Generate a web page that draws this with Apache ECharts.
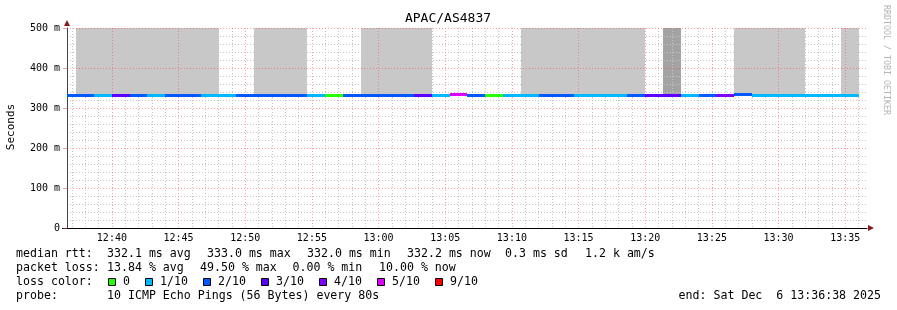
<!DOCTYPE html>
<html><head><meta charset="utf-8">
<script src="https://cdn.jsdelivr.net/npm/echarts@6/dist/echarts.min.js"></script>
<style>html,body{margin:0;padding:0;background:#fff}#c{width:897px;height:310px}</style>
</head><body><div id="c"></div>
<script>
const chartTitle = 'APAC/AS4837';
const startTime = '12:36:38';
const endTime = '13:36:38';
// probe rounds (start of each 80 s step)
const stepStarts = ['12:36:00','12:37:20','12:38:40','12:40:00','12:41:20','12:42:40','12:44:00','12:45:20','12:46:40','12:48:00',
  '12:49:20','12:50:40','12:52:00','12:53:20','12:54:40','12:56:00','12:57:20','12:58:40','13:00:00','13:01:20',
  '13:02:40','13:04:00','13:05:20','13:06:40','13:08:00','13:09:20','13:10:40','13:12:00','13:13:20','13:14:40',
  '13:16:00','13:17:20','13:18:40','13:20:00','13:21:20','13:22:40','13:24:00','13:25:20','13:26:40','13:28:00',
  '13:29:20','13:30:40','13:32:00','13:33:20','13:34:40'];
const stepEnds = ['12:37:20','12:38:40','12:40:00','12:41:20','12:42:40','12:44:00','12:45:20','12:46:40','12:48:00','12:49:20',
  '12:50:40','12:52:00','12:53:20','12:54:40','12:56:00','12:57:20','12:58:40','13:00:00','13:01:20','13:02:40',
  '13:04:00','13:05:20','13:06:40','13:08:00','13:09:20','13:10:40','13:12:00','13:13:20','13:14:40','13:16:00',
  '13:17:20','13:18:40','13:20:00','13:21:20','13:22:40','13:24:00','13:25:20','13:26:40','13:28:00','13:29:20',
  '13:30:40','13:32:00','13:33:20','13:34:40','13:36:00'];
// median rtt (ms)
const medianRtt = [332.1,332.1,332.0,332.2,332.1,332.0,332.1,332.1,332.0,332.1,
  332.1,332.2,332.1,332.1,332.0,332.1,332.1,332.1,332.2,332.1,
  332.2,332.1,333.0,332.1,332.1,332.0,332.1,332.1,332.2,332.1,
  332.1,332.0,332.1,332.2,332.1,332.1,332.1,332.1,332.8,332.1,
  332.0,332.0,332.0,332.1,332.2];
// lost pings out of 10 per round
const lostPings = [2,2,1,3,2,1,2,2,1,1,
  2,2,2,2,1,0,2,2,2,2,
  3,1,5,2,0,1,1,2,2,1,
  1,1,2,3,3,1,2,4,2,1,
  1,1,1,1,1];
// smoke (ms, top of grey band; null = none) and density (1 light, 2 dark)
const smokeTop = [null,900,900,900,900,900,900,900,900,null,
  null,900,900,900,null,null,null,900,900,900,
  900,null,null,null,null,null,900,900,900,900,
  900,900,900,null,900,null,null,null,900,900,
  900,900,null,null,900];
const smokeDensity = [0,1,1,1,1,1,1,1,1,0,
  0,1,1,1,0,0,0,1,1,1,
  1,0,0,0,0,0,1,1,1,1,
  1,1,1,0,2,0,0,0,1,1,
  1,1,0,0,1];
const xTickLabels = ['12:40','12:45','12:50','12:55','13:00','13:05','13:10','13:15','13:20','13:25','13:30','13:35'];
const yTicks = [0,100,200,300,400,500];
const lossLevels = [0,1,2,3,4,5,9];
const lossLabels = ['0','1/10','2/10','3/10','4/10','5/10','9/10'];
const lossColors = ['#26ff00','#00b8ff','#0059ff','#5e00ff','#7e00ff','#dd00ff','#ff0000'];
const statsLine1 = [['median rtt:',16],['332.1 ms avg',107],['333.0 ms max',207],['332.0 ms min',307],['332.2 ms now',407],['0.3 ms sd',505],['1.2 k am/s',585]];
const statsLine2 = [['packet loss:',16],['13.84 % avg',107],['49.50 % max',200],['0.00 % min',292.5],['10.00 % now',379]];
const probeText = '10 ICMP Echo Pings (56 Bytes) every 80s';
const endText = 'end: Sat Dec  6 13:36:38 2025';

const toSec = s => { const p = s.split(':').map(Number); return p[0]*3600 + p[1]*60 + (p[2]||0); };
const fmt = v => { const h = Math.floor(v/3600), m = Math.floor((v%3600)/60); return String(h).padStart(2,'0')+':'+String(m).padStart(2,'0'); };
const FF = 'DejaVu Sans Mono';
const xMin = toSec(startTime), xMax = toSec(endTime);
const majorTicks = xTickLabels.map(toSec);
const minorTicks = [];
for (let t = Math.ceil(xMin/60)*60; t <= xMax; t += 60) if (t % 300 !== 0) minorTicks.push(t);

const colorFor = l => lossColors[lossLevels.indexOf(l)];
const smokeData = [], lineData = [];
stepStarts.forEach((s, i) => {
  lineData.push([toSec(s), toSec(stepEnds[i]), medianRtt[i], lostPings[i]]);
  if (smokeTop[i] != null) smokeData.push([toSec(s), toSec(stepEnds[i]), medianRtt[i], smokeTop[i], smokeDensity[i]]);
});

const graphics = [];
const txt = (text, x, y, extra) => graphics.push(Object.assign({type:'text', x, y, silent:true,
  style:Object.assign({text, fontFamily:FF, fontSize:11.6, fill:'#000', textVerticalAlign:'middle'}, extra||{})}));
txt(chartTitle, 448, 19, {fontSize:13, textAlign:'center'});
graphics.push({type:'text', x:11, y:127, rotation:Math.PI/2, style:{text:'Seconds', fontFamily:FF, fontSize:11, fill:'#000', textAlign:'center', textVerticalAlign:'middle'}});
graphics.push({type:'text', x:886, y:60, rotation:-Math.PI/2, style:{text:'RRDTOOL / TOBI OETIKER', fontFamily:FF, fontSize:8.3, fill:'#b4b4b4', textAlign:'center', textVerticalAlign:'middle'}});
statsLine1.forEach(([t,x]) => txt(t, x, 254));
statsLine2.forEach(([t,x]) => txt(t, x, 268));
txt('loss color:', 16, 282);
let lx = 108;
lossLabels.forEach((lab, i) => {
  graphics.push({type:'rect', shape:{x:lx+0.5, y:278.5, width:7, height:7}, style:{fill:lossColors[i], stroke:'#000', lineWidth:1}});
  txt(lab, lx+15, 282);
  lx += 15 + lab.length*7 + 15;
});
txt('probe:', 16, 296);
txt(probeText, 107, 296);
txt(endText, 881, 296, {textAlign:'right'});
// axis arrows
graphics.push({type:'polygon', shape:{points:[[64,26],[70,26],[67,20]]}, style:{fill:'#8b1a1a'}});
graphics.push({type:'polygon', shape:{points:[[868,225],[868,231],[874,228]]}, style:{fill:'#8b1a1a'}});
graphics.push({type:'line', shape:{x1:62, y1:228.5, x2:67, y2:228.5}, style:{stroke:'#000', lineWidth:1}});

const chart = echarts.init(document.getElementById('c'), null, {renderer:'canvas'});
chart.setOption({
  animation:false,
  backgroundColor:'#fff',
  grid:{left:67, right:30, top:28, bottom:82},
  xAxis:[{
    type:'value', min:xMin, max:xMax, z:3,
    axisLine:{show:true, onZero:false, lineStyle:{color:'#000', width:1}},
    axisTick:{show:false, customValues:majorTicks},
    axisLabel:{customValues:majorTicks, formatter:v => fmt(v), fontFamily:FF, fontSize:10, color:'#000', margin:5},
    splitLine:{show:true, lineStyle:{color:'rgba(255,60,60,0.5)', width:1, type:[1,2]}}
  },{
    type:'value', min:xMin, max:xMax, z:2, position:'bottom',
    axisLine:{show:false}, axisLabel:{show:false},
    axisTick:{show:false, customValues:minorTicks},
    splitLine:{show:true, lineStyle:{color:'#c4c4c4', width:1, type:[1,2]}}
  }],
  yAxis:{
    type:'value', min:0, max:500, interval:100, z:3,
    axisLine:{show:true, lineStyle:{color:'#444', width:1}},
    axisTick:{show:true, length:4, lineStyle:{color:'rgba(255,60,60,0.5)'}},
    axisLabel:{formatter:v => v === 0 ? '0' : v + ' m', fontFamily:FF, fontSize:10, color:'#000', margin:7},
    splitLine:{show:true, lineStyle:{color:'rgba(255,60,60,0.5)', width:1, type:[1,2]}},
    minorTick:{show:false, splitNumber:5},
    minorSplitLine:{show:true, lineStyle:{color:'#c4c4c4', width:1, type:[1,2]}}
  },
  series:[{
    type:'custom', z:1, clip:true, data:smokeData,
    renderItem:(p, api) => {
      const a = api.coord([api.value(0), api.value(3)]);
      const b = api.coord([api.value(1), api.value(2)]);
      const x0 = Math.round(a[0]), x1 = Math.round(b[0]);
      return {type:'rect', shape:{x:x0, y:a[1], width:x1-x0, height:b[1]-a[1]},
        style:{fill: api.value(4) === 2 ? '#a3a3a3' : '#c8c8c8'}};
    }
  },{
    type:'custom', z:6, clip:true, data:lineData,
    renderItem:(p, api) => {
      const a = api.coord([api.value(0), api.value(2)]);
      const b = api.coord([api.value(1), api.value(2)]);
      const x0 = Math.round(a[0]), x1 = Math.round(b[0]);
      return {type:'rect', shape:{x:x0, y:Math.round(a[1]-1.5), width:x1-x0, height:3},
        style:{fill: colorFor(api.value(3))}};
    }
  }],
  graphic:graphics
});
</script></body></html>
